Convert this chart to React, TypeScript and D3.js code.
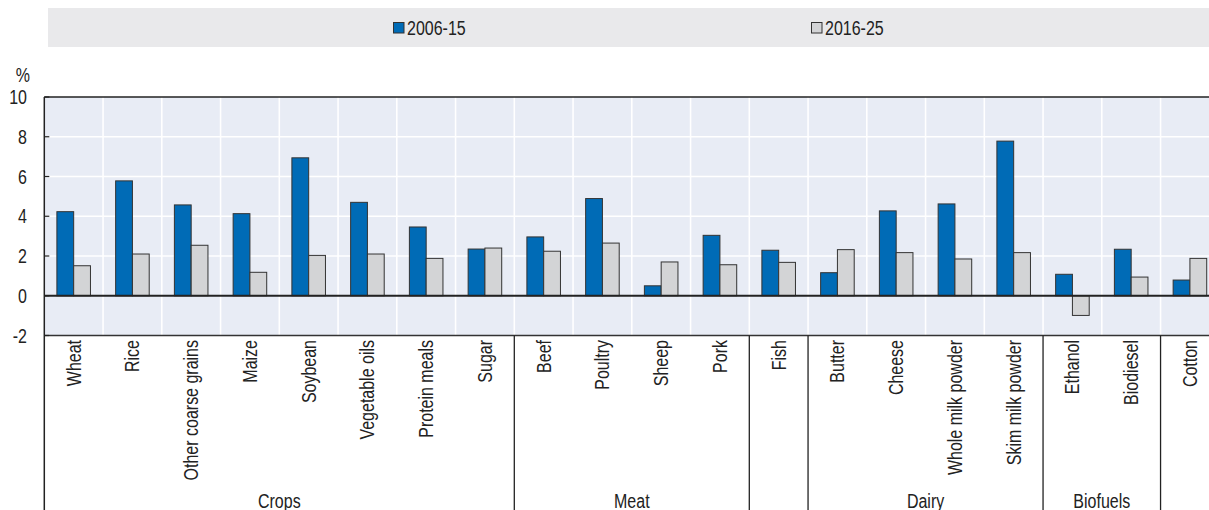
import React from "react";
import * as d3 from "d3";

const categories = [
  "Wheat", "Rice", "Other coarse grains", "Maize", "Soybean", "Vegetable oils", "Protein meals", "Sugar",
  "Beef", "Poultry", "Sheep", "Pork",
  "Fish",
  "Butter", "Cheese", "Whole milk powder", "Skim milk powder",
  "Ethanol", "Biodiesel",
  "Cotton",
];
const series = ["2006-15", "2016-25"];
const values2006 = [4.23, 5.78, 4.57, 4.13, 6.94, 4.7, 3.46, 2.35, 2.96, 4.89, 0.5, 3.04, 2.29, 1.16, 4.27, 4.62, 7.78, 1.08, 2.34, 0.79];
const values2016 = [1.51, 2.1, 2.54, 1.18, 2.03, 2.1, 1.88, 2.4, 2.24, 2.65, 1.7, 1.56, 1.68, 2.32, 2.17, 1.85, 2.17, -0.99, 0.94, 1.88];
const groupNames = ["Crops", "Meat", "", "Dairy", "Biofuels", ""];
const groupSizes = [8, 4, 1, 4, 2, 1];
const yTicks = [-2, 0, 2, 4, 6, 8, 10];

const colors = ["#006bb6", "#d3d4d6"];
const FONT = "'Liberation Sans', Arial, sans-serif";
const FS = 19.5;
const NARROW = 0.82;

function T(props: { x: number; y: number; rotate?: number; anchor?: string; dy?: string; children: React.ReactNode }) {
  const { x, y, rotate = 0, anchor = "start", dy, children } = props;
  return (
    <text transform={`translate(${x},${y}) rotate(${rotate}) scale(${NARROW},1)`} textAnchor={anchor} dy={dy}
      fontSize={FS} fill="#222">{children}</text>
  );
}

export default function App() {
  const W = 1209, H = 510;
  const left = 44.3, right = 1219.3, top = 97, bottom = 335.5;
  const x = d3.scaleBand<string>().domain(categories).range([left, right]).padding(0);
  const bw = x.bandwidth();
  const xs = d3.scaleBand<string>().domain(series).range([0, bw]).paddingInner(0).paddingOuter(0.75);
  const y = d3.scaleLinear().domain([-2, 10]).range([bottom, top]);
  const vals = [values2006, values2016];

  const groups: { name: string; start: number; end: number }[] = [];
  let idx = 0;
  groupSizes.forEach((n, i) => {
    const s = x(categories[idx])!;
    const e = x(categories[idx + n - 1])! + bw;
    groups.push({ name: groupNames[i], start: s, end: e });
    idx += n;
  });

  return (
    <svg width={W} height={H} style={{ position: "absolute", left: 0, top: 0, display: "block" }} fontFamily={FONT}>
      <rect x={0} y={0} width={W} height={H} fill="#fff" />
      {/* legend */}
      <rect x={48} y={8} width={W - 48} height={39} fill="#e9e9eb" />
      {series.map((s, i) => {
        const lx = i === 0 ? 393 : 811;
        return (
          <g key={s}>
            <rect x={lx + 0.5} y={22.5} width={10.5} height={10.5} fill={colors[i]} stroke="#333" strokeWidth={1} />
            <T x={lx + 14} y={34.5}>{s}</T>
          </g>
        );
      })}
      {/* plot bg */}
      <rect x={left} y={top} width={right - left} height={bottom - top} fill="#e8ecf5" />
      {yTicks.filter(t => t > -2 && t < 10 && t !== 0).map(t => (
        <line key={t} x1={left} x2={right} y1={y(t)} y2={y(t)} stroke="#fff" strokeWidth={1.6} />
      ))}
      {categories.slice(1).map(c => (
        <line key={c} x1={x(c)!} x2={x(c)!} y1={top} y2={bottom} stroke="#fff" strokeWidth={1.6} />
      ))}
      {/* bars */}
      {categories.map((c, i) =>
        series.map((s, j) => {
          const v = vals[j][i];
          const y0 = y(0), y1 = y(v);
          return (
            <rect key={c + s} x={x(c)! + xs(s)!} y={Math.min(y0, y1)} width={xs.bandwidth()} height={Math.abs(y1 - y0)}
              fill={colors[j]} stroke="#333" strokeWidth={1} />
          );
        })
      )}
      {/* axes lines */}
      <line x1={left} x2={right} y1={top} y2={top} stroke="#222" strokeWidth={1.6} />
      <line x1={left} x2={right} y1={y(0)} y2={y(0)} stroke="#222" strokeWidth={1.8} />
      <line x1={left} x2={right} y1={bottom} y2={bottom} stroke="#333" strokeWidth={1.3} />
      <line x1={left} x2={left} y1={top} y2={H} stroke="#222" strokeWidth={1.5} />
      {yTicks.map(t => (
        <g key={t}>
          <line x1={left} x2={left + 5} y1={y(t)} y2={y(t)} stroke="#222" strokeWidth={1.2} />
          <T x={27} y={y(t)} dy="0.36em" anchor="end">{t}</T>
        </g>
      ))}
      <T x={30} y={74.5} dy="0.36em" anchor="end">%</T>
      {/* category labels */}
      {categories.map(c => (
        <T key={c} x={x(c)! + bw / 2} y={340} rotate={-90} dy="0.36em" anchor="end">{c}</T>
      ))}
      {/* group separators and names */}
      {groups.map((g, i) => (
        <g key={i}>
          {i > 0 && <line x1={g.start} x2={g.start} y1={bottom} y2={H} stroke="#222" strokeWidth={1.3} />}
          {g.name && <T x={(g.start + g.end) / 2} y={507.5} anchor="middle">{g.name}</T>}
        </g>
      ))}
    </svg>
  );
}
